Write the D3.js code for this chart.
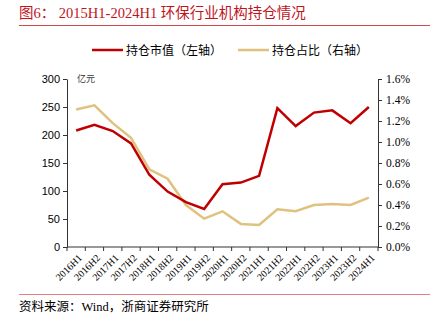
<!DOCTYPE html>
<html><head><meta charset="utf-8">
<script src="https://cdn.jsdelivr.net/npm/d3@7"></script>
<style>
body{margin:0;background:#fff;}
svg{display:block;}
</style></head>
<body>
<svg id="c" width="439" height="321"></svg>
<script>
const categories = ["2016H1","2016H2","2017H1","2017H2","2018H1","2018H2","2019H1","2019H2","2020H1","2020H2","2021H1","2021H2","2022H1","2022H2","2023H1","2023H2","2024H1"];
const marketValue = [208,218,207,185,129,99,80,68,112,115,127,248,216,240,244,221,250];
const holdingRatio = [1.31,1.35,1.18,1.04,0.74,0.65,0.40,0.27,0.34,0.22,0.21,0.36,0.34,0.40,0.41,0.40,0.47];
const leftTicks = [0,50,100,150,200,250,300];
const rightTicks = [0,0.2,0.4,0.6,0.8,1.0,1.2,1.4,1.6];
const titleText = "图6： 2015H1-2024H1 环保行业机构持仓情况";
const sourceText = "资料来源：Wind，浙商证券研究所";
const legendLabels = ["持仓市值（左轴）","持仓占比（右轴）"];
const unitLabel = "亿元";

const svg = d3.select("#c");
const serif = "'Liberation Serif','Noto Sans CJK SC',serif";
const sans = "'Liberation Sans','Noto Sans CJK SC',sans-serif";
const red = "#c00000", gold = "#dfc27d";

// Title
svg.append("text").attr("x",19).attr("y",18).attr("fill","#c0141c")
  .style("font-family",serif).style("font-size","14.5px").text(titleText);
svg.append("line").attr("x1",19).attr("x2",430).attr("y1",25.5).attr("y2",25.5)
  .attr("stroke","#d44a4a").attr("stroke-width",1);

// Scales
const x = d3.scaleBand().domain(categories).range([67,378]);
const yL = d3.scaleLinear().domain([0,300]).range([247,79]);
const yR = d3.scaleLinear().domain([0,1.6]).range([247,79]);

// Axes
const axisColor = "#333";
const gL = svg.append("g").attr("transform","translate(67,0)")
  .call(d3.axisLeft(yL).tickValues(leftTicks).tickSize(4).tickSizeOuter(0).tickPadding(3));
gL.selectAll("text").style("font-family",sans).style("font-size","11px").attr("fill","#000");
gL.selectAll("line,path").attr("stroke",axisColor);

const gR = svg.append("g").attr("transform","translate(378,0)")
  .call(d3.axisRight(yR).tickValues(rightTicks).tickFormat(d=>d.toFixed(1)+"%").tickSize(4).tickSizeOuter(0).tickPadding(4));
gR.selectAll("text").style("font-family",serif).style("font-size","11.5px").attr("fill","#000");
gR.selectAll("line,path").attr("stroke",axisColor);

const gX = svg.append("g").attr("transform","translate(0,247)");
gX.append("line").attr("x1",67).attr("x2",378).attr("stroke",axisColor);
const bounds = categories.map(c=>x(c)).concat([x.range()[1]]);
gX.selectAll("line.t").data(bounds).join("line").attr("class","t")
  .attr("x1",d=>d).attr("x2",d=>d).attr("y1",0).attr("y2",4).attr("stroke",axisColor);
gX.selectAll("text").data(categories).join("text")
  .attr("transform",d=>`translate(${x(d)+x.bandwidth()/2+4},9) rotate(-45)`)
  .attr("text-anchor","end").attr("dy","0.35em")
  .style("font-family",serif).style("font-size","10px").attr("fill","#000").text(d=>d);

// Unit
svg.append("text").attr("x",77).attr("y",82).style("font-family",serif).style("font-size","9px")
  .attr("fill","#333").text(unitLabel);

// Lines
const cx = d=>x(d)+x.bandwidth()/2;
const lineL = d3.line().x((d,i)=>cx(categories[i])).y(d=>yL(d));
const lineR = d3.line().x((d,i)=>cx(categories[i])).y(d=>yR(d));
svg.append("path").datum(holdingRatio).attr("d",lineR).attr("fill","none")
  .attr("stroke",gold).attr("stroke-width",2.5).attr("stroke-linejoin","miter");
svg.append("path").datum(marketValue).attr("d",lineL).attr("fill","none")
  .attr("stroke",red).attr("stroke-width",2.5).attr("stroke-linejoin","miter");

// Legend
const lg = [{c:red,x:92,t:legendLabels[0]},{c:gold,x:238,t:legendLabels[1]}];
lg.forEach(l=>{
  svg.append("line").attr("x1",l.x).attr("x2",l.x+31).attr("y1",50).attr("y2",50)
    .attr("stroke",l.c).attr("stroke-width",2.5);
  svg.append("text").attr("x",l.x+34).attr("y",54.5).style("font-family",sans)
    .style("font-size","12px").attr("fill","#000").text(l.t);
});

// Footer
svg.append("line").attr("x1",19).attr("x2",430).attr("y1",294.5).attr("y2",294.5)
  .attr("stroke","#e08080").attr("stroke-width",1);
svg.append("text").attr("x",19).attr("y",311).style("font-family",serif).style("font-size","12.5px")
  .attr("fill","#000").text(sourceText);
</script>
</body></html>
